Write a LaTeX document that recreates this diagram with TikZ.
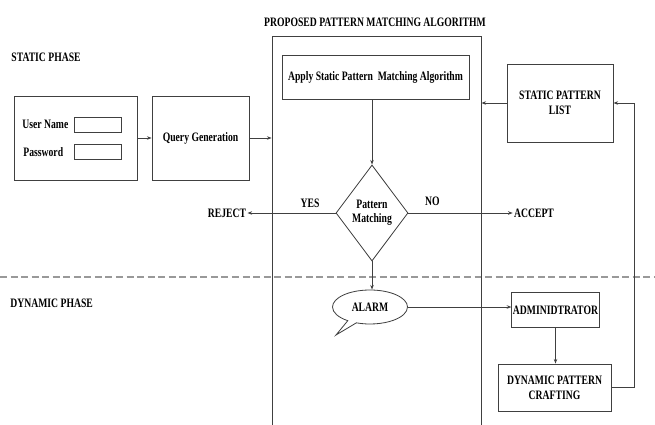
\documentclass[tikz,border=0pt]{standalone}
\usepackage{fontspec}
\setmainfont{Liberation Serif}[FakeStretch=0.75]
\usetikzlibrary{shapes.geometric,shapes.callouts,arrows.meta}

\begin{document}
\begin{tikzpicture}[x=0.03cm,y=-0.03cm,>={Stealth[length=4pt,width=3pt]},
  lbl/.style={font=\fontsize{11}{13}\selectfont\bfseries, inner sep=1pt},
  box/.style={draw=black!75, line width=0.7pt, align=center, lbl},
  field/.style={draw=black!75, line width=0.7pt, minimum width=1.41cm, minimum height=0.45cm},
  conn/.style={draw=black!75, line width=0.7pt}]
\clip (0,0) rectangle (655,424);
\node[lbl] (title) at (375,22) {PROPOSED PATTERN MATCHING ALGORITHM};
\node[lbl,anchor=west] (static) at (10,57) {STATIC PHASE};
\node[lbl,anchor=west] (dynamic) at (9,303) {DYNAMIC PHASE};
\draw[dashed, dash pattern=on 6pt off 3pt, gray!80, line width=1pt] (0,277) -- (655,277);
% static phase
\node[box, minimum width=3.69cm, minimum height=2.52cm] (login) at (75.5,138) {};
\node[lbl,anchor=west] (user) at (21,124) {User Name};
\node[lbl,anchor=west] (pass) at (22,152) {Password};
\foreach \y/\n in {124.5/ufield,151.5/pfield}
  \node[field] (\n) at (97.5,\y) {};
\node[box, minimum width=2.91cm, minimum height=2.52cm] (query) at (200.5,138) {Query Generation};
\node[box, minimum width=6.27cm, minimum height=12.12cm] (algo) at (376.5,238) {};
\node[box, minimum width=5.61cm, minimum height=1.32cm] (apply) at (375.5,77) {Apply Static Pattern~ Matching Algorithm};
\node[box, minimum width=3.18cm, minimum height=2.34cm] (list) at (560,103) {STATIC PATTERN\\LIST};
\node[box, diamond, minimum width=2.16cm, minimum height=2.88cm, inner sep=0pt,
  font=\fontsize{11}{12}\selectfont\bfseries] (match) at (372,213) {Pattern\\Matching};
\node[lbl] (reject) at (227,213) {REJECT};
\node[lbl] (accept) at (534,213) {ACCEPT};
% dynamic phase
\node[box, ellipse callout, callout absolute pointer={(336,335)},
  minimum width=2.25cm, minimum height=1.02cm] (alarm) at (370,307) {ALARM};
\node[box, minimum width=2.61cm, minimum height=1.05cm] (admin) at (555.5,310) {ADMINIDTRATOR};
\node[box, minimum width=3.39cm, minimum height=1.41cm] (craft) at (554.5,387.5) {DYNAMIC PATTERN\\CRAFTING};
% connectors
\draw[conn,->] (login.east) -- (query.west);
\draw[conn,->] (query.east) -- (query.east -| algo.west);
\draw[conn,->] (list.west) -- (list.west -| algo.east);
\draw[conn,->] (apply.south -| match.north) -- (match.north);
\draw[conn,->] (match.west) -- node[lbl,pos=0.29,above=3pt] {YES} (reject.east);
\draw[conn,->] (match.east) -- node[lbl,pos=0.23,above=5pt] {NO} (accept.west);
\draw[conn,->] (match.south) -- (match.south |- alarm.north);
\draw[conn,->] (alarm.east) -- (alarm.east -| admin.west);
\draw[conn,->] (admin.south) -- (admin.south |- craft.north);
\draw[conn,->] (craft.east) -- ++(23,0) |- (list.east);
\end{tikzpicture}
\end{document}
